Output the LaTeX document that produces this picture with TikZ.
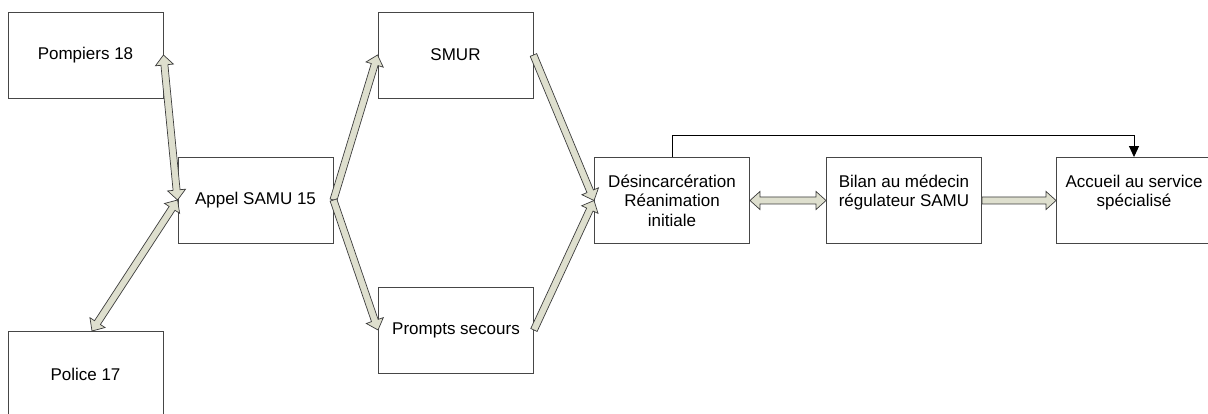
\documentclass[tikz,border=0pt]{standalone}
\usepackage{fontspec}
\setmainfont{Liberation Sans}
\usetikzlibrary{calc,arrows.meta}
\definecolor{boxline}{RGB}{70,70,70}
\definecolor{arrfill}{RGB}{222,223,206}
\definecolor{arrline}{RGB}{60,60,60}
\newcommand\sarrow[2]{%
\draw[blk] let \p1=($(#2)-(#1)$), \n1={atan2(\y1,\x1)} in
 ($(#1)+({\n1+90}:3.5pt)$) --
 ($(#2)+({\n1+180}:10pt)+({\n1+90}:3.5pt)$) --
 ($(#2)+({\n1+180}:10pt)+({\n1+90}:9pt)$) --
 (#2) --
 ($(#2)+({\n1+180}:10pt)+({\n1-90}:9pt)$) --
 ($(#2)+({\n1+180}:10pt)+({\n1-90}:3.5pt)$) --
 ($(#1)+({\n1-90}:3.5pt)$) -- cycle;}
\newcommand\darrow[2]{%
\draw[blk] let \p1=($(#2)-(#1)$), \n1={atan2(\y1,\x1)} in
 ($(#1)+({\n1}:10pt)+({\n1+90}:3.5pt)$) --
 ($(#2)+({\n1+180}:10pt)+({\n1+90}:3.5pt)$) --
 ($(#2)+({\n1+180}:10pt)+({\n1+90}:9pt)$) --
 (#2) --
 ($(#2)+({\n1+180}:10pt)+({\n1-90}:9pt)$) --
 ($(#2)+({\n1+180}:10pt)+({\n1-90}:3.5pt)$) --
 ($(#1)+({\n1}:10pt)+({\n1-90}:3.5pt)$) --
 ($(#1)+({\n1}:10pt)+({\n1-90}:9pt)$) --
 (#1) --
 ($(#1)+({\n1}:10pt)+({\n1+90}:9pt)$) -- cycle;}
\tikzset{
  box/.style={draw=boxline, line width=0.9pt, minimum width=155pt, minimum height=86pt,
    inner sep=0pt, align=center, font=\fontsize{17}{19.5}\selectfont},
  blk/.style={draw=arrline, fill=arrfill, line width=0.7pt, line join=miter},
  fb/.style={draw=black, line width=0.9pt, -{Triangle[length=11pt,width=10pt]}}
}
\begin{document}
\begin{tikzpicture}[x=1pt,y=-1pt]
\useasboundingbox (0,0) rectangle (1208,414);
\clip (0,0) rectangle (1208,414);
\fill[white] (0,0) rectangle (1208,414);
\node[box] (pomp) at (85.5,55) {Pompiers 18};
\node[box] (police) at (85.5,374) {Police 17};
\node[box] (appel) at (255.5,200) {Appel SAMU 15};
\node[box] (smur) at (455.5,55) {SMUR};
\node[box] (prompts) at (456,330) {Prompts secours};
\node[box] (desinc) at (672,200.5) {Désincarcération\\Réanimation\\initiale};
\node[box] (bilan) at (904,200.5) {Bilan au médecin\\régulateur SAMU\\\mbox{}};
\node[box] (accueil) at (1134,200.5) {Accueil au service\\spécialisé\\\mbox{}};
\coordinate (polt) at (92,331);
\darrow{pomp.east}{appel.west}
\darrow{polt}{appel.west}
\sarrow{appel.east}{smur.west}
\sarrow{appel.east}{prompts.west}
\sarrow{smur.east}{desinc.west}
\sarrow{prompts.east}{desinc.west}
\darrow{desinc.east}{bilan.west}
\sarrow{bilan.east}{accueil.west}
\draw[fb] (desinc.north) -- ++(0,-22) -| (accueil.north);
\end{tikzpicture}
\end{document}
